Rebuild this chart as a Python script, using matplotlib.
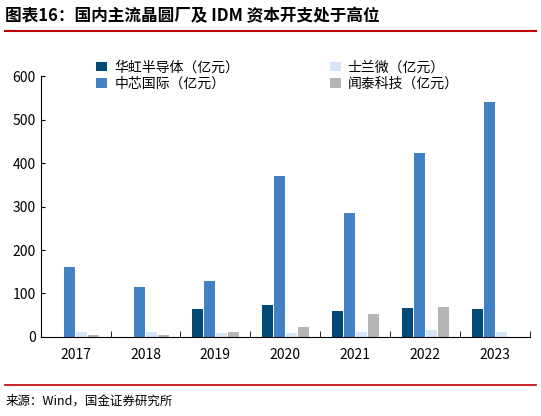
import matplotlib
matplotlib.use('Agg')
import matplotlib.pyplot as plt
import numpy as np
plt.rcParams['font.family'] = ['Noto Sans CJK SC', 'DejaVu Sans']

years = ['2017','2018','2019','2020','2021','2022','2023']
huahong = [0, 0, 64, 74, 60, 67, 64]
smic = [161, 116, 129, 371, 285, 423, 540]
silan = [12, 11, 8, 8, 12, 15, 12]
wingtech = [5, 5, 12, 22, 53, 70, 0]
names = ['华虹半导体（亿元）','中芯国际（亿元）','士兰微（亿元）','闻泰科技（亿元）']
colors = ['#004a75','#4282c4','#d4e5f7','#b5b5b5']

fig = plt.figure(figsize=(5.41,4.16), dpi=100)
fig.text(0.01,0.962,'图表16：国内主流晶圆厂及 IDM 资本开支处于高位', fontsize=12, fontweight='bold', style='italic', va='center')
fig.add_artist(plt.Line2D([0.01,0.99],[0.925,0.925], color='#c00000', lw=1.5))
fig.add_artist(plt.Line2D([0.01,0.99],[0.075,0.075], color='#c00000', lw=1.2))
fig.text(0.01,0.035,'来源：Wind，国金证券研究所', fontsize=9, va='center')

ax = fig.add_axes([0.075,0.19,0.905,0.627])
x = np.arange(len(years))
w = 0.17
for i,(d,n,c) in enumerate(zip([huahong,smic,silan,wingtech],names,colors)):
    ax.bar(x+(i-1.5)*w, d, w*0.92, color=c, label=n)
ax.set_xlim(-0.5,6.5)
ax.set_ylim(0,600)
ax.set_yticks(range(0,601,100))
ax.set_xticks(x)
ax.set_xticklabels(years)
ax.set_xticks(np.arange(-0.5,7,1), minor=True)
ax.tick_params(axis='x', which='major', length=0, pad=8)
ax.tick_params(axis='x', which='minor', length=4, direction='in')
ax.tick_params(axis='y', direction='in', length=3)
ax.tick_params(labelsize=10)
for s in ['top','right']:
    ax.spines[s].set_visible(False)
fig.legend(ncol=2, loc='upper left', bbox_to_anchor=(0.155,0.885), frameon=False, fontsize=10, handlelength=0.8, handletextpad=0.5, columnspacing=6.5, labelspacing=0.2)
fig.savefig('out.png', dpi=100)
